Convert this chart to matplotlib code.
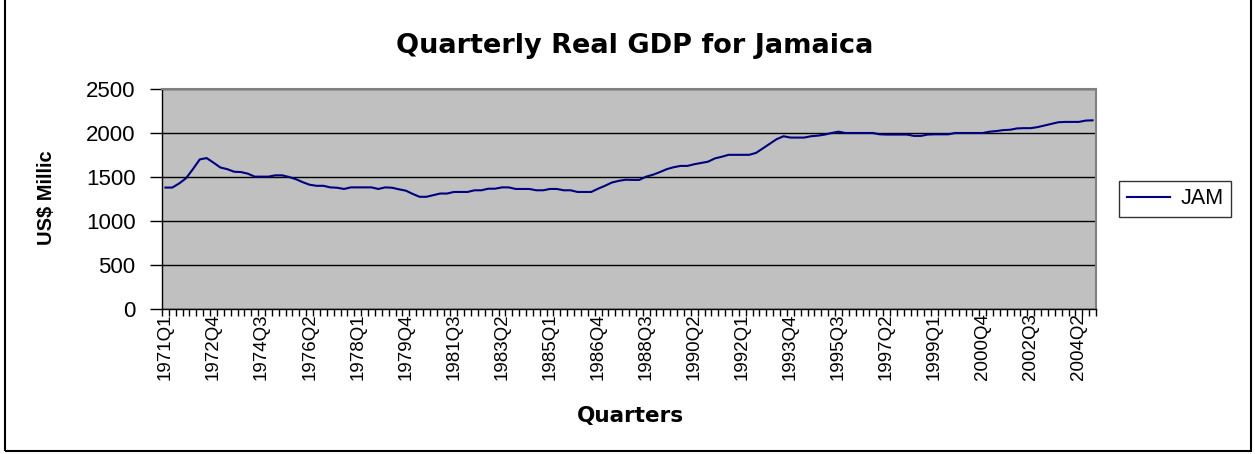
import numpy as np
import matplotlib
matplotlib.use("Agg")
import matplotlib.pyplot as plt
from matplotlib.patches import Rectangle

plt.rcParams['font.family'] = ['Liberation Sans', 'DejaVu Sans']

# quarterly real GDP, 1971Q1 .. 2004Q4
gdp = [
    1380, 1380, 1427, 1486, 1589, 1700, 1715, 1663, 1608, 1589,
    1560, 1556, 1538, 1504, 1504, 1504, 1519, 1519, 1500, 1475,
    1441, 1412, 1400, 1400, 1382, 1378, 1364, 1382, 1382, 1382,
    1382, 1364, 1382, 1378, 1360, 1345, 1308, 1275, 1275, 1293,
    1312, 1312, 1330, 1330, 1330, 1349, 1349, 1367, 1367, 1382,
    1382, 1364, 1364, 1364, 1349, 1349, 1364, 1364, 1349, 1349,
    1330, 1330, 1330, 1367, 1400, 1437, 1456, 1469, 1467, 1467,
    1504, 1526, 1556, 1589, 1611, 1626, 1626, 1645, 1660, 1674,
    1711, 1730, 1752, 1752, 1752, 1752, 1774, 1826, 1878, 1930,
    1963, 1948, 1948, 1948, 1963, 1970, 1982, 2000, 2015, 2000,
    2000, 2000, 2000, 2000, 1985, 1982, 1982, 1982, 1982, 1967,
    1967, 1982, 1985, 1985, 1985, 2000, 2000, 2000, 2000, 2000,
    2015, 2022, 2033, 2037, 2052, 2055, 2055, 2067, 2085, 2104,
    2122, 2126, 2126, 2126, 2141, 2144,
]
quarters = [f"{y}Q{q}" for y in range(1971, 2005) for q in range(1, 5)]

fig = plt.figure(figsize=(12.55, 4.54), dpi=100)
fig.patches.append(Rectangle((5 / 1255, 3 / 454), 1246 / 1255, 460 / 454,
                             transform=fig.transFigure, fill=False,
                             edgecolor='black', linewidth=1.5))

ax = fig.add_axes([162 / 1255, 1 - 309 / 454, 934 / 1255, 220 / 454])
ax.set_facecolor('#C0C0C0')
x = np.arange(len(gdp))
ax.plot(x, gdp, color='#000080', linewidth=1.5, label='JAM')

ax.set_xlim(-0.5, len(gdp) - 0.5)
ax.set_ylim(0, 2500)
ax.set_yticks(np.arange(0, 2501, 500))
ax.yaxis.grid(True, color='black', linewidth=1)
ax.set_axisbelow(True)

ax.set_xticks(x[::7])
ax.set_xticklabels(quarters[::7], rotation=90, fontsize=13.5)
ax.set_xticks(np.arange(-0.5, len(gdp), 1), minor=True)
ax.tick_params(axis='x', which='major', length=0, pad=3)
ax.tick_params(axis='x', which='minor', length=5, direction='out', width=1)
ax.tick_params(axis='y', labelsize=16, length=9, width=1, pad=10)

for s in ['top', 'right']:
    ax.spines[s].set_color('#808080')
    ax.spines[s].set_linewidth(1.5)
for s in ['left', 'bottom']:
    ax.spines[s].set_color('black')
    ax.spines[s].set_linewidth(1)

fig.text(635 / 1255, 1 - 46 / 454, 'Quarterly Real GDP for Jamaica',
         ha='center', va='center', fontsize=19.5, fontweight='bold',
         family='DejaVu Sans')
fig.text(630 / 1255, 1 - 416 / 454, 'Quarters', ha='center', va='center',
         fontsize=15.5, fontweight='bold', family='DejaVu Sans')
fig.text(47 / 1255, 1 - 198 / 454, 'US$ Millic', ha='center', va='center',
         rotation=90, fontsize=14.5, fontweight='bold')

leg = ax.legend(loc='center left', bbox_to_anchor=(1119 / 1255, 1 - 199 / 454),
                bbox_transform=fig.transFigure, fontsize=15.5, frameon=True,
                fancybox=False, edgecolor='black', handlelength=2.0,
                borderpad=0.35, handletextpad=0.5, borderaxespad=0)
leg.get_frame().set_linewidth(1)

fig.savefig('out.png', dpi=100)
